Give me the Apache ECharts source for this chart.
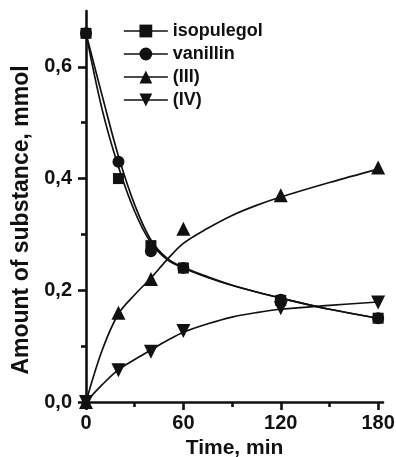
<!DOCTYPE html>
<html><head><meta charset="utf-8">
<script src="https://cdn.jsdelivr.net/npm/echarts@6/dist/echarts.min.js"></script>
<style>html,body{margin:0;padding:0;background:#fff}#c{width:396px;height:457px}</style>
</head><body><div id="c"></div>
<script>
// measured points
const times = [0, 20, 40, 60, 120, 180];
const isopulegol = [0.66, 0.40, 0.28, 0.24, 0.182, 0.15];
const vanillin = [0.66, 0.43, 0.27, 0.24, 0.183, 0.15];
const seriesIII = [0.0, 0.16, 0.22, 0.31, 0.37, 0.42];
const seriesIV = [0.0, 0.057, 0.09, 0.127, 0.168, 0.178];
// fitted curves
const fitTimes = [0, 10, 20, 30, 40, 50, 60, 75, 90, 105, 120, 150, 180];
const fitIsopulegol = [0.66, 0.548, 0.44, 0.353, 0.29, 0.257, 0.241, 0.224, 0.209, 0.197, 0.186, 0.166, 0.15];
const fitVanillin = [0.66, 0.523, 0.421, 0.341, 0.285, 0.255, 0.240, 0.223, 0.209, 0.197, 0.186, 0.166, 0.15];
const fitIII = [0.0, 0.093, 0.158, 0.192, 0.222, 0.255, 0.284, 0.311, 0.334, 0.352, 0.367, 0.393, 0.417];
const fitIV = [0.0, 0.031, 0.058, 0.076, 0.093, 0.11, 0.125, 0.14, 0.152, 0.16, 0.166, 0.173, 0.179];
// ticks
const xMajorTicks = [0, 60, 120, 180];
const xMinorTicks = [30, 90, 150];
const yMajorTicks = [0, 0.2, 0.4, 0.6];
const yMinorTicks = [0.1, 0.3, 0.5];

const FONT = 'Liberation Sans, Arial, sans-serif';
const INK = '#111';
const pair = (xs, ys) => xs.map((t, i) => [t, ys[i]]);
function markers(name, data, symbol, size, rot) {
  return {
    name, type: 'line', data: pair(times, data),
    symbol, symbolSize: size, symbolRotate: rot || 0, showSymbol: true,
    lineStyle: {opacity: 0, width: 0},
    itemStyle: {color: INK}, z: 4
  };
}
function fit(name, data) {
  return {
    name, type: 'line', data: pair(fitTimes, data), smooth: 0.35,
    symbol: 'none', lineStyle: {color: INK, width: 1.7}, z: 3, silent: true
  };
}
const legendLine = {opacity: 1, width: 1.7, color: INK};
const chart = echarts.init(document.getElementById('c'));
chart.setOption({
  animation: false,
  backgroundColor: '#fff',
  grid: {left: 86, right: 13, top: 11, bottom: 55, containLabel: false, outerBoundsMode: 'none'},
  legend: {
    orient: 'vertical', left: 123, top: 22, padding: 0, itemWidth: 44, itemHeight: 16, itemGap: 5,
    textStyle: {fontFamily: FONT, fontWeight: 'bold', fontSize: 18, color: INK},
    data: [
      {name: 'isopulegol', lineStyle: legendLine},
      {name: 'vanillin', lineStyle: legendLine},
      {name: '(III)', lineStyle: legendLine},
      {name: '(IV)', lineStyle: legendLine}
    ]
  },
  xAxis: [{
    type: 'value', min: 0, max: 183,
    name: 'Time, min', nameLocation: 'middle', nameGap: 33,
    nameTextStyle: {fontFamily: FONT, fontWeight: 'bold', fontSize: 21, color: INK},
    axisLine: {lineStyle: {color: INK, width: 2.6}},
    axisTick: {customValues: xMajorTicks, length: 8, lineStyle: {width: 2.6, color: INK}},
    axisLabel: {customValues: xMajorTicks, fontFamily: FONT, fontWeight: 'bold', fontSize: 20, color: INK, margin: 11},
    splitLine: {show: false}
  }, {
    type: 'value', min: 0, max: 183, position: 'bottom',
    axisLine: {show: false},
    axisTick: {customValues: xMinorTicks, length: 5, lineStyle: {width: 2.6, color: INK}},
    axisLabel: {show: false}, splitLine: {show: false}
  }],
  yAxis: [{
    type: 'value', min: 0, max: 0.7,
    name: 'Amount of substance, mmol', nameLocation: 'middle', nameGap: 49,
    nameTextStyle: {fontFamily: FONT, fontWeight: 'bold', fontSize: 23, color: INK, padding: [0, 0, 0, -27]},
    axisLine: {lineStyle: {color: INK, width: 2.6}},
    axisTick: {customValues: yMajorTicks, length: 8, lineStyle: {width: 2.6, color: INK}},
    axisLabel: {customValues: yMajorTicks, formatter: v => v.toFixed(1).replace('.', ','), fontFamily: FONT, fontWeight: 'bold', fontSize: 20, color: INK, margin: 14},
    splitLine: {show: false}
  }, {
    type: 'value', min: 0, max: 0.7, position: 'left',
    axisLine: {show: false},
    axisTick: {customValues: yMinorTicks, length: 5, lineStyle: {width: 2.6, color: INK}},
    axisLabel: {show: false}, splitLine: {show: false}
  }],
  series: [
    fit('fit isopulegol', fitIsopulegol),
    fit('fit vanillin', fitVanillin),
    fit('fit III', fitIII),
    fit('fit IV', fitIV),
    markers('isopulegol', isopulegol, 'rect', 11),
    markers('vanillin', vanillin, 'circle', 12),
    markers('(III)', seriesIII, 'triangle', 14),
    markers('(IV)', seriesIV, 'triangle', 14, 180)
  ]
});
</script></body></html>
